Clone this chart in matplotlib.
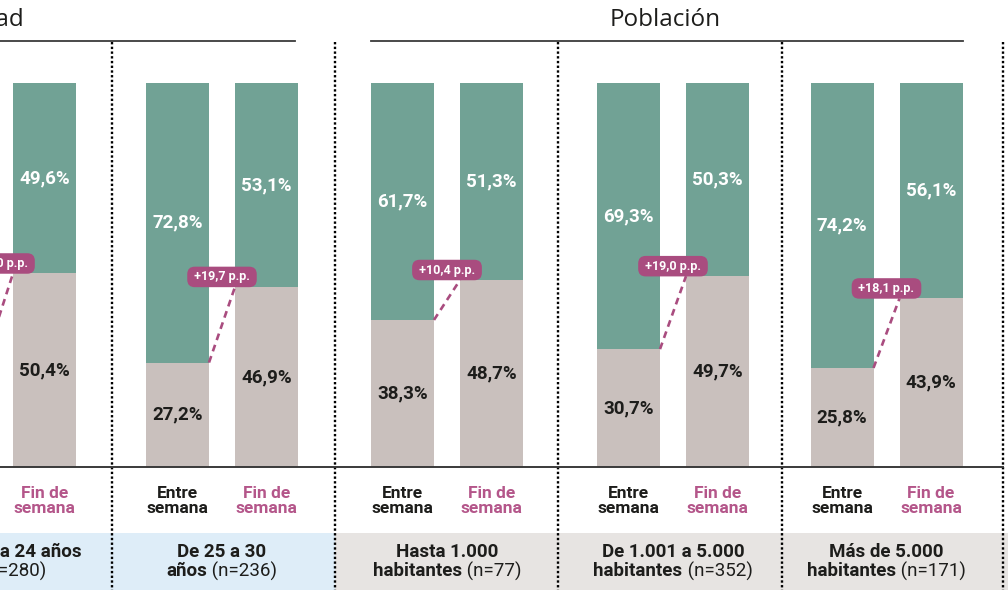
import matplotlib.pyplot as plt

# datos (porcentaje de la parte inferior; la parte verde es el resto hasta 100)
grupos_l1 = ['De 18 a 24 años', 'De 25 a 30', 'Hasta 1.000', 'De 1.001 a 5.000', 'Más de 5.000']
grupos_l2 = ['', 'años', 'habitantes', 'habitantes', 'habitantes']
n_muestra = [280, 236, 77, 352, 171]
entre_semana = [29.4, 27.2, 38.3, 30.7, 25.8]
fin_semana = [50.4, 46.9, 48.7, 49.7, 43.9]
secciones = ['Edad', 'Población']

# colores
VERDE = '#71a295'
BEIGE = '#c9c0bd'
MAGENTA = '#a94c7f'
ROSA_TXT = '#b4568a'
NEGRO = '#1d1d1b'
AZUL_BANDA = '#deedf8'
GRIS_BANDA = '#e7e4e2'

# maquetación en píxeles (x) y píxeles de la imagen para textos
W, H = 1008, 590
Y0, YS = 467, 3.84          # línea base y píxeles por punto porcentual
centros = [0, 222, 447, 673, 886.5]
centros_etiq = [14, 222, 447, 673, 886.5]
desp = 44.5
ancho = 63
separadores = [112, 335, 558, 782, 1003]


def ypx(p):
    return (Y0 - p) / YS


fig = plt.figure(figsize=(W / 100, H / 100), dpi=100)
ax = fig.add_axes([0, 0, 1, 1])
ax.set_xlim(0, W)
ax.set_ylim(ypx(H), ypx(0))
ax.axis('off')

FUENTE = 'Roboto'

# bandas inferiores
ax.axhspan(ypx(590), ypx(533), xmin=0, xmax=335 / W, color=AZUL_BANDA, lw=0, zorder=0)
ax.axhspan(ypx(590), ypx(533), xmin=335 / W, xmax=1, color=GRIS_BANDA, lw=0, zorder=0)

for i, c in enumerate(centros):
    xe, xf = c - desp, c + desp
    ve, vf = entre_semana[i], fin_semana[i]
    ax.bar([xe, xf], [ve, vf], width=ancho, color=BEIGE, zorder=2)
    ax.bar([xe, xf], [100 - ve, 100 - vf], bottom=[ve, vf], width=ancho, color=VERDE, zorder=2)

    for x, v in [(xe, ve), (xf, vf)]:
        if x < 0:
            continue  # barra fuera del recorte
        ax.text(x, v / 2, f'{v:.1f}%'.replace('.', ','), ha='center', va='center',
                fontsize=13.5, fontweight='bold', color=NEGRO, family=FUENTE, zorder=5)
        ax.text(x, v + (100 - v) / 2, f'{100 - v:.1f}%'.replace('.', ','), ha='center',
                va='center', fontsize=13.5, fontweight='bold', color='white',
                family=FUENTE, zorder=5)

    # conector y diferencia
    ax.plot([xe + ancho / 2, xf - ancho / 2], [ve, vf], color=MAGENTA, lw=1.9,
            linestyle=(0, (2.6, 1.9)), zorder=3)
    dif = vf - ve
    ax.text(c, vf + 2.6, f' +{dif:.1f} p.p. '.replace('.', ',', 1), ha='center', va='center',
            fontsize=9, fontweight='bold', color='white', family=FUENTE, zorder=6,
            bbox=dict(boxstyle='round,pad=0.3,rounding_size=0.6', fc=MAGENTA, ec='none'))

    # etiquetas bajo las barras
    if xe > 0:
        ax.text(xe, ypx(501), 'Entre\nsemana', ha='center', va='center', fontsize=12.5,
                fontweight='bold', color=NEGRO, family=FUENTE, linespacing=1.0)
    ax.text(xf, ypx(501), 'Fin de\nsemana', ha='center', va='center', fontsize=12.5,
            fontweight='bold', color=ROSA_TXT, family=FUENTE, linespacing=1.0)

    # etiqueta del grupo
    ax.text(centros_etiq[i], ypx(552), grupos_l1[i], ha='center', va='center', fontsize=13.5,
            fontweight='bold', color=NEGRO, family=FUENTE)

fig.canvas.draw()
rend = fig.canvas.get_renderer()
for i, c in enumerate(centros_etiq):
    parte_b = grupos_l2[i]
    parte_r = f' (n={n_muestra[i]})' if parte_b else f'(n={n_muestra[i]})'
    tb = ax.text(0, ypx(571), parte_b, ha='left', va='center', fontsize=13.5,
                 fontweight='bold', color=NEGRO, family=FUENTE)
    tr = ax.text(0, ypx(571), parte_r, ha='left', va='center', fontsize=13.5,
                 color=NEGRO, family=FUENTE)
    wb = tb.get_window_extent(rend).width if parte_b else 0
    wr = tr.get_window_extent(rend).width
    x0 = c - (wb + wr) / 2
    tb.set_x(x0)
    tr.set_x(x0 + wb)

# separadores punteados
for s in separadores:
    ax.plot([s, s], [ypx(42), ypx(590)], color='black', lw=1.7,
            linestyle=(0, (1, 1.0)), zorder=4)

# línea base
ax.plot([0, 1003], [0, 0], color='#3a3a3a', lw=1.4, zorder=4)

# títulos de sección
ax.text(-4, ypx(20), secciones[0], ha='center', va='center', fontsize=17.5,
        color=NEGRO, family='Open Sans')
ax.plot([0, 295], [ypx(41), ypx(41)], color='#3a3a3a', lw=1.3)
ax.text((centros[2] + centros[4]) / 2 - 2, ypx(20), secciones[1], ha='center', va='center',
        fontsize=17.5, color=NEGRO, family='Open Sans')
ax.plot([371, 963], [ypx(41), ypx(41)], color='#3a3a3a', lw=1.3)

fig.savefig('out.png', dpi=100)
